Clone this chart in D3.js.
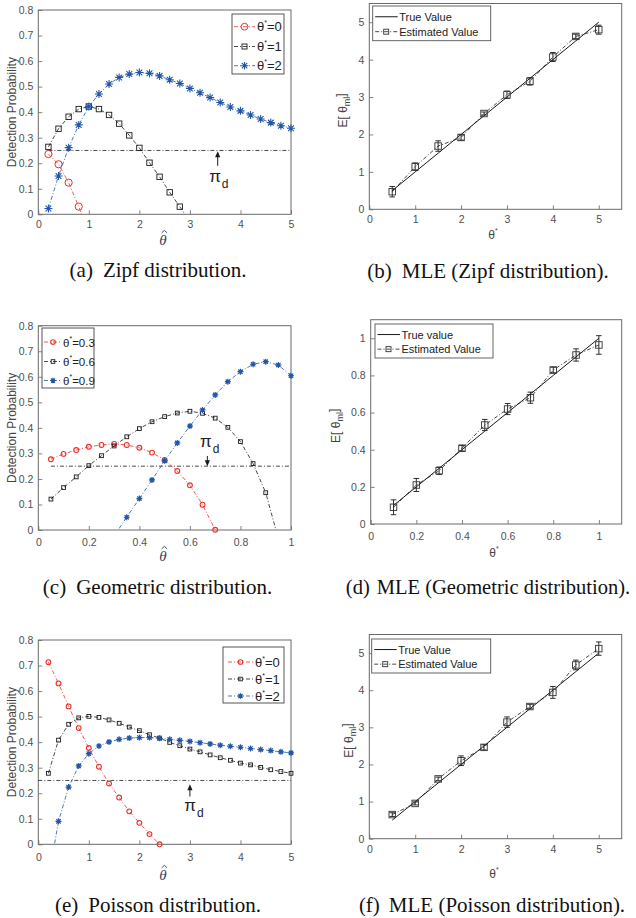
<!DOCTYPE html>
<html><head><meta charset="utf-8">
<script src="https://cdn.jsdelivr.net/npm/d3@7"></script>
<style>body{margin:0;background:#fff}</style>
</head><body><svg id="c" width="636" height="918" xmlns="http://www.w3.org/2000/svg"></svg>
<script>
// ---------------- DATA ----------------
// (a) Zipf detection probability
const zipfX0 = [0.2,0.4,0.6,0.8,1.0];
const zipfT0 = [0.236,0.196,0.124,0.030,-0.070];
const zipfX1 = [0.2,0.4,0.6,0.8,1.0,1.2,1.4,1.6,1.8,2.0,2.2,2.4,2.6,2.8,3.0];
const zipfT1 = [0.264,0.335,0.382,0.412,0.422,0.412,0.389,0.355,0.309,0.260,0.202,0.147,0.086,0.030,-0.030];
const zipfX2 = [0.2,0.4,0.6,0.8,1.0,1.2,1.4,1.6,1.8,2.0,2.2,2.4,2.6,2.8,3.0,3.2,3.4,3.6,3.8,4.0,4.2,4.4,4.6,4.8,5.0];
const zipfT2 = [0.023,0.150,0.261,0.350,0.422,0.471,0.510,0.536,0.549,0.555,0.552,0.542,0.527,0.512,0.493,0.476,0.457,0.438,0.420,0.405,0.389,0.373,0.359,0.347,0.337];
const zipfLegend = ["=0","=1","=2"];
// (c) Geometric detection probability
const geoX03 = [0.05,0.10,0.15,0.20,0.25,0.30,0.35,0.40,0.45,0.50,0.55,0.60,0.65,0.70];
const geoT03 = [0.277,0.298,0.313,0.326,0.333,0.337,0.333,0.322,0.303,0.274,0.231,0.175,0.099,0.001];
const geoX06 = [0.05,0.10,0.15,0.20,0.25,0.30,0.35,0.40,0.45,0.50,0.55,0.60,0.65,0.70,0.75,0.80,0.85,0.90,0.95];
const geoT06 = [0.121,0.166,0.208,0.252,0.291,0.329,0.365,0.397,0.424,0.444,0.458,0.465,0.457,0.438,0.402,0.346,0.260,0.146,-0.035];
const geoX09 = [0.30,0.35,0.40,0.45,0.50,0.55,0.60,0.65,0.70,0.75,0.80,0.85,0.90,0.95,1.00];
const geoT09 = [-0.023,0.050,0.123,0.196,0.271,0.341,0.407,0.470,0.529,0.581,0.620,0.649,0.659,0.646,0.604];
const geoLegend = ["=0.3","=0.6","=0.9"];
// (e) Poisson detection probability
const poisX0 = [0.2,0.4,0.6,0.8,1.0,1.2,1.4,1.6,1.8,2.0,2.2,2.4];
const poisT0 = [0.713,0.630,0.540,0.455,0.377,0.304,0.238,0.183,0.129,0.084,0.040,0.000];
const poisX = [0.2,0.4,0.6,0.8,1.0,1.2,1.4,1.6,1.8,2.0,2.2,2.4,2.6,2.8,3.0,3.2,3.4,3.6,3.8,4.0,4.2,4.4,4.6,4.8,5.0];
const poisT1 = [0.278,0.408,0.470,0.495,0.501,0.497,0.487,0.474,0.459,0.445,0.429,0.416,0.399,0.386,0.373,0.362,0.350,0.339,0.329,0.318,0.311,0.301,0.292,0.285,0.278];
const poisT2 = [-0.135,0.090,0.224,0.307,0.355,0.385,0.401,0.411,0.416,0.418,0.418,0.415,0.411,0.407,0.403,0.398,0.393,0.388,0.384,0.380,0.375,0.371,0.367,0.362,0.358];
const poisLegend = ["=0","=1","=2"];
// pi_d threshold
const piD = 0.25;
// MLE panels
const zipfMleX = [0.5,1.0,1.5,2.0,2.5,3.0,3.5,4.0,4.5,5.0];
const zipfMleTrue = [0.5,1.0,1.5,2.0,2.5,3.0,3.5,4.0,4.5,5.0];
const zipfMleEst = [0.47,1.14,1.69,1.92,2.56,3.06,3.42,4.07,4.62,4.80];
const zipfMleErr = [0.14,0.10,0.14,0.07,0.04,0.10,0.10,0.12,0.06,0.12];
const geoMleX = [0.1,0.2,0.3,0.4,0.5,0.6,0.7,0.8,0.9,1.0];
const geoMleTrue = [0.1,0.2,0.3,0.4,0.5,0.6,0.7,0.8,0.9,1.0];
const geoMleEst = [0.090,0.210,0.287,0.408,0.533,0.619,0.680,0.829,0.910,0.964];
const geoMleErr = [0.040,0.035,0.020,0.015,0.030,0.030,0.030,0.015,0.033,0.050];
const poisMleX = [0.5,1.0,1.5,2.0,2.5,3.0,3.5,4.0,4.5,5.0];
const poisMleTrue = [0.5,1.0,1.5,2.0,2.5,3.0,3.5,4.0,4.5,5.0];
const poisMleEst = [0.65,0.95,1.61,2.10,2.46,3.14,3.56,3.94,4.68,5.12];
const poisMleErr = [0.05,0.04,0.05,0.13,0.07,0.14,0.06,0.16,0.13,0.18];
// ticks
const ticks0to5 = [0,1,2,3,4,5];
const ticksProb = [0,0.1,0.2,0.3,0.4,0.5,0.6,0.7,0.8];
const ticks0to1 = [0,0.2,0.4,0.6,0.8,1];
// captions
const captions = [
  ["(a)","Zipf distribution."],
  ["(b)","MLE (Zipf distribution)."],
  ["(c)","Geometric distribution."],
  ["(d)","MLE (Geometric distribution)."],
  ["(e)","Poisson distribution."],
  ["(f)","MLE (Poisson distribution)."]
];

// ---------------- DRAWING ----------------
const svg = d3.select("#c");
const SANS = "'Liberation Sans', Arial, Helvetica, sans-serif";
const SERIF = "'Liberation Serif', 'Times New Roman', serif";
const RED = "#e8312b", BLACK = "#1a1a1a", BLUE = "#2356a8";
const DASHDOT = "4,2,1,2";
const fmt = v => String(+v.toFixed(2));

function setupPanel(cfg){
  const g = svg.append("g");
  const x = d3.scaleLinear().domain(cfg.xd).range([cfg.l, cfg.r]);
  const y = d3.scaleLinear().domain(cfg.yd).range([cfg.b, cfg.t]);
  const id = "clip" + cfg.id;
  svg.append("clipPath").attr("id", id).append("rect")
    .attr("x", cfg.l).attr("y", cfg.t).attr("width", cfg.r - cfg.l).attr("height", cfg.b - cfg.t);
  const ax = g.append("g").attr("transform", `translate(0,${cfg.b})`)
    .call(d3.axisBottom(x).tickValues(cfg.xt).tickSize(-4).tickPadding(cfg.xpad).tickFormat(fmt));
  const ay = g.append("g").attr("transform", `translate(${cfg.l},0)`)
    .call(d3.axisLeft(y).tickValues(cfg.yt).tickSize(-4).tickPadding(5).tickFormat(fmt));
  [ax, ay].forEach(a => {
    a.select(".domain").remove();
    a.selectAll("line").attr("stroke", "#666").attr("stroke-width", 0.8);
    a.selectAll("text").attr("fill", "#505050").style("font-family", SANS).style("font-size", "10.5px");
  });
  g.append("rect").attr("x", cfg.l).attr("y", cfg.t).attr("width", cfg.r - cfg.l).attr("height", cfg.b - cfg.t)
    .attr("fill", "none").attr("stroke", "#6a6a6a").attr("stroke-width", 1);
  return {g, x, y, clip: `url(#${id})`, cfg};
}

function marker(g, cx, cy, type, color, s, sw){
  if (type === "circle") {
    g.append("circle").attr("cx", cx).attr("cy", cy).attr("r", s)
      .attr("fill", "none").attr("stroke", color).attr("stroke-width", sw);
  } else if (type === "square") {
    g.append("rect").attr("x", cx - s/2).attr("y", cy - s/2).attr("width", s).attr("height", s)
      .attr("fill", "none").attr("stroke", color).attr("stroke-width", sw);
  } else {
    const k = s * 0.72;
    g.append("path").attr("d",
      `M${cx-s},${cy}L${cx+s},${cy}M${cx},${cy-s}L${cx},${cy+s}M${cx-k},${cy-k}L${cx+k},${cy+k}M${cx-k},${cy+k}L${cx+k},${cy-k}`)
      .attr("stroke", color).attr("stroke-width", sw).attr("fill", "none");
    if (s < 3.6) g.append("circle").attr("cx", cx).attr("cy", cy).attr("r", s*0.55).attr("fill", color);
  }
}

function series(p, xs, ys, color, type, s, sw){
  const pts = xs.map((v, i) => [v, ys[i]]);
  p.g.append("path").datum(pts).attr("clip-path", p.clip)
    .attr("fill", "none").attr("stroke", color).attr("stroke-width", 0.8).attr("stroke-dasharray", DASHDOT)
    .attr("d", d3.line().x(d => p.x(d[0])).y(d => p.y(d[1])));
  pts.filter(d => d[1] >= 0).forEach(d => marker(p.g, p.x(d[0]), p.y(d[1]), type, color, s, sw));
}

function piLine(p, x0, x1, ax, ay0, ay1, lx, ly){
  p.g.append("line").attr("x1", p.x(x0)).attr("x2", p.x(x1)).attr("y1", p.y(piD)).attr("y2", p.y(piD))
    .attr("stroke", BLACK).attr("stroke-width", 0.8).attr("stroke-dasharray", DASHDOT);
  const X = p.x(ax), Y0 = p.y(ay0), Y1 = p.y(ay1);
  const dir = Y1 < Y0 ? 1 : -1;
  p.g.append("line").attr("x1", X).attr("x2", X).attr("y1", Y0).attr("y2", Y1 + dir*4)
    .attr("stroke", BLACK).attr("stroke-width", 1);
  p.g.append("path").attr("d", `M${X},${Y1}L${X-2.6},${Y1+dir*6}L${X+2.6},${Y1+dir*6}Z`).attr("fill", BLACK);
  const t = p.g.append("text").attr("x", p.x(lx)).attr("y", p.y(ly))
    .style("font-family", SANS).style("font-size", "17px").attr("fill", "#222");
  t.append("tspan").text("π");
  t.append("tspan").attr("dy", 6).attr("dx", 1).style("font-size", "12px").text("d");
}

function dpLegend(p, bx, by, bw, bh, rows, labels, fs){
  p.g.append("rect").attr("x", bx).attr("y", by).attr("width", bw).attr("height", bh)
    .attr("fill", "#fff").attr("stroke", "#444").attr("stroke-width", 0.9);
  rows.forEach((r, i) => {
    const cy = r.cy;
    p.g.append("line").attr("x1", r.lx0).attr("x2", r.lx1).attr("y1", cy).attr("y2", cy)
      .attr("stroke", r.color).attr("stroke-width", 0.8).attr("stroke-dasharray", DASHDOT);
    marker(p.g, (r.lx0 + r.lx1)/2, cy, r.type, r.color, r.s, r.sw);
    const t = p.g.append("text").attr("x", r.tx).attr("y", cy + 4.5)
      .style("font-family", SANS).style("font-size", fs + "px").attr("fill", "#222");
    t.append("tspan").text("θ");
    t.append("tspan").attr("dy", -6).style("font-size", "7px").text("*");
    t.append("tspan").attr("dy", 6).text(labels[i]);
  });
}

function yTitleDP(p, xb){
  p.g.append("text").attr("transform", `translate(${xb},${(p.cfg.t + p.cfg.b)/2}) rotate(-90)`)
    .attr("text-anchor", "middle").style("font-family", SANS).style("font-size", "12px").attr("fill", "#444")
    .text("Detection Probability");
}
function xTitleHat(p, cx, by){
  p.g.append("text").attr("x", cx).attr("y", by).attr("text-anchor", "middle")
    .style("font-family", SERIF).style("font-style", "italic").style("font-size", "15px").attr("fill", "#2e3f66").text("θ");
  p.g.append("path").attr("d", `M${cx-1.3},${by-12.2}L${cx+1.4},${by-14.6}L${cx+4.1},${by-12.2}`)
    .attr("fill", "none").attr("stroke", "#2e3f66").attr("stroke-width", 0.9);
}
function xTitleStar(p, cx, by){
  const t = p.g.append("text").attr("x", cx).attr("y", by).attr("text-anchor", "middle")
    .style("font-family", SANS).style("font-size", "12px").attr("fill", "#444");
  t.append("tspan").text("θ");
  t.append("tspan").attr("dy", -6).style("font-size", "7px").text("*");
}
function yTitleE(p, xb){
  const t = p.g.append("text").attr("transform", `translate(${xb},${(p.cfg.t + p.cfg.b)/2 + 4}) rotate(-90)`)
    .attr("text-anchor", "middle").style("font-family", SANS).style("font-size", "12px").attr("fill", "#444");
  t.append("tspan").text("E[ θ");
  t.append("tspan").attr("dy", 3).style("font-size", "9px").text("ml");
  t.append("tspan").attr("dy", -5).text("]");
}

function mle(p, xs, tv, est, err){
  const tl = xs.map((v, i) => [v, tv[i]]);
  const el = xs.map((v, i) => [v, est[i], err[i]]);
  p.g.append("path").datum(tl).attr("fill", "none").attr("stroke", BLACK).attr("stroke-width", 1)
    .attr("d", d3.line().x(d => p.x(d[0])).y(d => p.y(d[1])));
  p.g.append("path").datum(el).attr("fill", "none").attr("stroke", BLACK).attr("stroke-width", 0.8)
    .attr("stroke-dasharray", DASHDOT).attr("d", d3.line().x(d => p.x(d[0])).y(d => p.y(d[1])));
  el.forEach(d => {
    const X = p.x(d[0]), Ya = p.y(d[1] - d[2]), Yb = p.y(d[1] + d[2]);
    p.g.append("path").attr("d", `M${X},${Ya}L${X},${Yb}M${X-2.8},${Ya}L${X+2.8},${Ya}M${X-2.8},${Yb}L${X+2.8},${Yb}`)
      .attr("stroke", BLACK).attr("stroke-width", 0.9).attr("fill", "none");
    marker(p.g, X, p.y(d[1]), "square", "#333", 6.5, 0.9);
  });
}
function mleLegend(p, bx, by, bw, bh, l1){
  p.g.append("rect").attr("x", bx).attr("y", by).attr("width", bw).attr("height", bh)
    .attr("fill", "#fff").attr("stroke", "#555").attr("stroke-width", 0.9);
  const y1 = by + bh*0.31, y2 = by + bh*0.74;
  p.g.append("line").attr("x1", bx + 2.5).attr("x2", bx + 25).attr("y1", y1).attr("y2", y1)
    .attr("stroke", BLACK).attr("stroke-width", 1);
  p.g.append("line").attr("x1", bx + 2.5).attr("x2", bx + 25).attr("y1", y2).attr("y2", y2)
    .attr("stroke", BLACK).attr("stroke-width", 0.8).attr("stroke-dasharray", DASHDOT);
  marker(p.g, bx + 13.5, y2, "square", "#333", 5, 0.9);
  [[l1, y1], ["Estimated Value", y2]].forEach(([s, yy]) => {
    p.g.append("text").attr("x", bx + 26.5).attr("y", yy + 4).style("font-family", SANS)
      .style("font-size", "11px").attr("fill", "#222").text(s);
  });
}

// ----- Panel (a)
const pa = setupPanel({id:"a", l:38.3, r:291, t:10, b:214.3, xd:[0,5], yd:[0,0.8], xt:ticks0to5, yt:ticksProb, xpad:6.5});
piLine(pa, 0.2, 5, 3.55, 0.19, 0.247, 3.38, 0.127);
series(pa, zipfX0, zipfT0, RED, "circle", 3.6, 1);
series(pa, zipfX1, zipfT1, BLACK, "square", 5.4, 0.9);
series(pa, zipfX2, zipfT2, BLUE, "star", 4, 1.1);
dpLegend(pa, 232, 14, 52, 60, [
  {cy:26.7, lx0:234, lx1:255, tx:257, color:RED, type:"circle", s:3.4, sw:1},
  {cy:46.5, lx0:234, lx1:255, tx:257, color:BLACK, type:"square", s:5, sw:0.9},
  {cy:65.7, lx0:234, lx1:255, tx:257, color:BLUE, type:"star", s:3.8, sw:1.1}
], zipfLegend, 13);
yTitleDP(pa, 16);
xTitleHat(pa, 163, 245);

// ----- Panel (c)
const pc = setupPanel({id:"c", l:38.3, r:291, t:325.7, b:530, xd:[0,1], yd:[0,0.8], xt:ticks0to1, yt:ticksProb, xpad:8.5});
piLine(pc, 0.05, 1, 0.669, 0.29, 0.25, 0.64, 0.326);
series(pc, geoX03, geoT03, RED, "circle", 2.4, 1.1);
series(pc, geoX06, geoT06, BLACK, "square", 3.8, 0.9);
series(pc, geoX09, geoT09, BLUE, "star", 3, 1.2);
dpLegend(pc, 42, 328, 52, 60, [
  {cy:342, lx0:44, lx1:62, tx:63, color:RED, type:"circle", s:2.3, sw:1.1},
  {cy:361.5, lx0:44, lx1:62, tx:63, color:BLACK, type:"square", s:3.6, sw:0.9},
  {cy:380.5, lx0:44, lx1:62, tx:63, color:BLUE, type:"star", s:2.8, sw:1.2}
], geoLegend, 11.5);
yTitleDP(pc, 16);
xTitleHat(pc, 163, 561);

// ----- Panel (e)
const pe = setupPanel({id:"e", l:38.3, r:291, t:640, b:844.3, xd:[0,5], yd:[0,0.8], xt:ticks0to5, yt:ticksProb, xpad:9});
piLine(pe, 0, 5, 3.0, 0.187, 0.235, 2.89, 0.132);
series(pe, poisX0, poisT0, RED, "circle", 2.4, 1.1);
series(pe, poisX, poisT1, BLACK, "square", 3.8, 0.9);
series(pe, poisX, poisT2, BLUE, "star", 3, 1.2);
dpLegend(pe, 223, 647, 61, 56, [
  {cy:662, lx0:228, lx1:253, tx:255, color:RED, type:"circle", s:2.3, sw:1.1},
  {cy:679, lx0:228, lx1:253, tx:255, color:BLACK, type:"square", s:3.6, sw:0.9},
  {cy:696, lx0:228, lx1:253, tx:255, color:BLUE, type:"star", s:2.8, sw:1.2}
], poisLegend, 13);
yTitleDP(pe, 16);
xTitleHat(pe, 163, 880);

// ----- Panel (b)
const pb = setupPanel({id:"b", l:369.3, r:621.7, t:3.5, b:209.3, xd:[0,5.5], yd:[0,5.5], xt:ticks0to5, yt:ticks0to5, xpad:6.5});
mle(pb, zipfMleX, zipfMleTrue, zipfMleEst, zipfMleErr);
mleLegend(pb, 372.7, 6, 118, 34.7, "True Value");
yTitleE(pb, 347);
xTitleStar(pb, 493, 239);

// ----- Panel (d)
const pd = setupPanel({id:"d", l:370.7, r:621.7, t:319.7, b:524, xd:[0,1.1], yd:[0,1.1], xt:ticks0to1, yt:ticks0to1, xpad:8.5});
mle(pd, geoMleX, geoMleTrue, geoMleEst, geoMleErr);
mleLegend(pd, 375, 324, 118, 34, "True value");
yTitleE(pd, 340);
xTitleStar(pd, 494, 557);

// ----- Panel (f)
const pf = setupPanel({id:"f", l:369.3, r:621.7, t:634.5, b:838.7, xd:[0,5.5], yd:[0,5.5], xt:ticks0to5, yt:ticks0to5, xpad:7});
mle(pf, poisMleX, poisMleTrue, poisMleEst, poisMleErr);
mleLegend(pf, 371.7, 639, 119, 34, "True Value");
yTitleE(pf, 353);
xTitleStar(pf, 494, 878);

// ----- Captions
const capPos = [[158,277],[488,278],[157.5,594],[488,594],[158,912],[492,912]];
const capGap = [10,10,10,7,10,9];
captions.forEach((c, i) => {
  const t = svg.append("text").attr("x", capPos[i][0]).attr("y", capPos[i][1]).attr("text-anchor", "middle")
    .style("font-family", SERIF).style("font-size", i === 3 ? "20.5px" : "21px").attr("fill", "#111");
  t.append("tspan").text(c[0]);
  t.append("tspan").attr("dx", capGap[i]).text(c[1]);
});
</script>
</body></html>
